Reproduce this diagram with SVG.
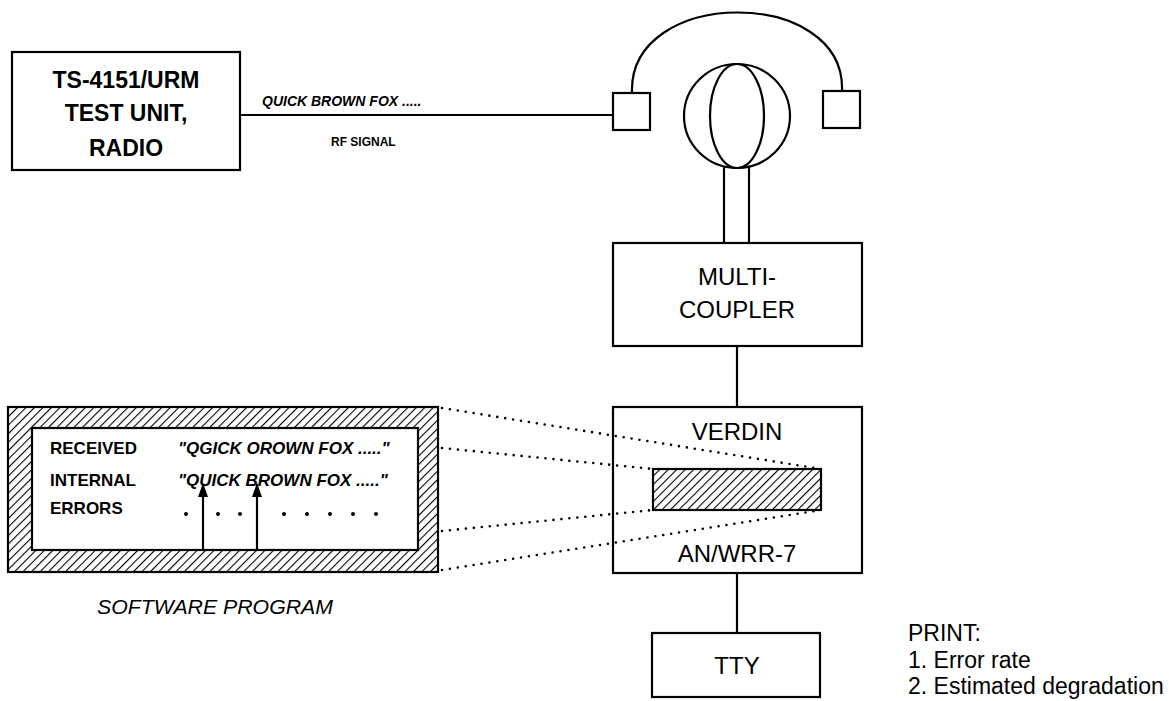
<svg xmlns="http://www.w3.org/2000/svg" width="1169" height="701" viewBox="0 0 1169 701">
<defs>
<pattern id="hatch" width="6" height="6" patternUnits="userSpaceOnUse" patternTransform="rotate(45)">
<rect width="6" height="6" fill="#fff"/>
<line x1="0" y1="0" x2="0" y2="6" stroke="#000" stroke-width="2.2"/>
</pattern>
<marker id="arr" markerWidth="14" markerHeight="10" refX="13" refY="5" orient="auto" markerUnits="userSpaceOnUse" viewBox="0 0 14 10">
<path d="M0,0 L14,5 L0,10 Z" fill="#000"/>
</marker>
</defs>
<style>
.box{fill:#fff;stroke:#000;stroke-width:2.2}
.ln{fill:none;stroke:#000;stroke-width:2.2}
.dot{fill:none;stroke:#000;stroke-width:2.6;stroke-linecap:round;stroke-dasharray:0 8}
.t{font-family:"Liberation Sans",Arial,sans-serif;fill:#000}
.b{font-weight:bold}
.i{font-style:italic;font-weight:bold}
.lbl{font-size:24px;text-anchor:middle}
</style>
<rect width="1169" height="701" fill="#fff"/>
<g id="test-unit">
<rect class="box" x="12" y="52" width="228" height="118"/>
<text class="t b lbl" x="126" y="88" font-size="23" style="font-size:23px">TS-4151/URM</text>
<text class="t b lbl" x="126" y="121" style="font-size:23px">TEST UNIT,</text>
<text class="t b lbl" x="126" y="156" style="font-size:23px">RADIO</text>
</g>
<g id="headphones">
<path class="ln" d="M632,93 C628,-14 846,-14 842,91"/>
<rect class="box" x="613" y="93" width="37" height="37"/>
<rect class="box" x="823" y="91" width="37" height="37"/>
<ellipse class="ln" cx="737" cy="116" rx="53" ry="52"/>
<ellipse class="ln" cx="737" cy="116" rx="27" ry="52"/>
<line class="ln" x1="724" y1="166" x2="724" y2="243"/>
<line class="ln" x1="749" y1="166" x2="749" y2="243"/>
</g>
<g id="multicoupler">
<rect class="box" x="613" y="243" width="249" height="103"/>
<text class="t lbl" x="737" y="285">MULTI-</text>
<text class="t lbl" x="737" y="318">COUPLER</text>
</g>
<g id="verdin">
<rect class="box" x="613" y="407" width="249" height="166"/>
<text class="t lbl" x="737" y="440">VERDIN</text>
<rect x="653" y="469" width="168" height="41" fill="url(#hatch)" stroke="#000" stroke-width="2.2"/>
<text class="t lbl" x="737" y="562">AN/WRR-7</text>
</g>
<g id="tty">
<rect class="box" x="652" y="633" width="168" height="64"/>
<text class="t lbl" x="737" y="674">TTY</text>
</g>
<g id="print">
<text class="t" x="908" y="641" font-size="23">PRINT:</text>
<text class="t" x="908" y="668" font-size="23">1.  Error rate</text>
<text class="t" x="908" y="694" font-size="23">2.  Estimated degradation</text>
</g>
<g id="software">
<rect x="8" y="407" width="430" height="165" fill="url(#hatch)" stroke="#000" stroke-width="2.2"/>
<rect class="box" x="32" y="428" width="386" height="122"/>
<text class="t b" x="50" y="454" font-size="17">RECEIVED</text>
<text class="t i" x="178" y="454" font-size="17">"QGICK OROWN FOX ....."</text>
<text class="t b" x="50" y="486" font-size="17">INTERNAL</text>
<text class="t i" x="178" y="486" font-size="17">"QUICK BROWN FOX ....."</text>
<text class="t b" x="50" y="514" font-size="17">ERRORS</text>
<g fill="#000">
<circle cx="186" cy="514" r="2"/><circle cx="218" cy="514" r="2"/><circle cx="240" cy="514" r="2"/>
<circle cx="284" cy="514" r="2"/><circle cx="307" cy="514" r="2"/><circle cx="330" cy="514" r="2"/>
<circle cx="353" cy="514" r="2"/><circle cx="376" cy="514" r="2"/>
</g>
<line class="ln" x1="203" y1="549" x2="203" y2="484" marker-end="url(#arr)"/>
<line class="ln" x1="257" y1="549" x2="257" y2="484" marker-end="url(#arr)"/>
<text class="t" x="97" y="614" font-size="20" font-style="italic" textLength="236" lengthAdjust="spacingAndGlyphs">SOFTWARE PROGRAM</text>
</g>
<g id="connectors">
<line class="ln" x1="240" y1="115" x2="613" y2="115"/>
<line class="ln" x1="737" y1="346" x2="737" y2="407"/>
<line class="ln" x1="737" y1="573" x2="737" y2="633"/>
<line class="dot" x1="442" y1="408" x2="821" y2="469"/>
<line class="dot" x1="442" y1="448" x2="653" y2="469"/>
<line class="dot" x1="442" y1="531" x2="653" y2="510"/>
<line class="dot" x1="442" y1="570" x2="821" y2="510"/>
<text class="t i" x="262" y="106" font-size="14">QUICK BROWN FOX .....</text>
<text class="t b" x="331" y="146" font-size="12">RF SIGNAL</text>
</g>
</svg>
